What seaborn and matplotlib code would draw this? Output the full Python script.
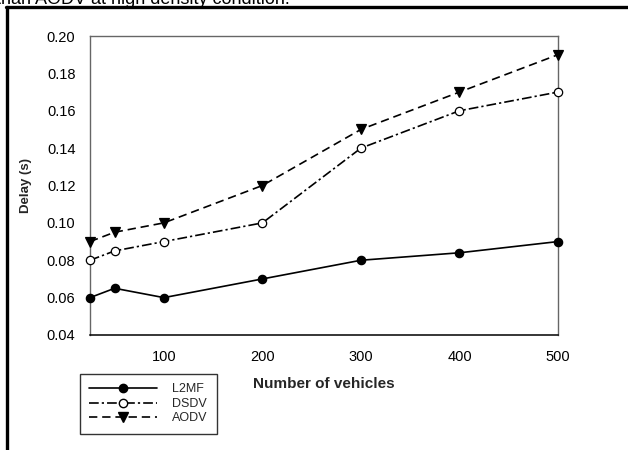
import matplotlib
matplotlib.use("Agg")
import matplotlib.pyplot as plt
import seaborn as sns
import pandas as pd
from matplotlib.lines import Line2D

vehicles = [25, 50, 100, 200, 300, 400, 500]
l2mf = [0.060, 0.065, 0.060, 0.070, 0.080, 0.084, 0.090]
dsdv = [0.080, 0.085, 0.090, 0.100, 0.140, 0.160, 0.170]
aodv = [0.090, 0.095, 0.100, 0.120, 0.150, 0.170, 0.190]
series_names = ["L2MF", "DSDV", "AODV"]
x_ticks = [100, 200, 300, 400, 500]
y_ticks = [0.04, 0.06, 0.08, 0.10, 0.12, 0.14, 0.16, 0.18, 0.20]

sns.set_theme(style="white")
plt.rcParams["font.family"] = ["Liberation Sans", "DejaVu Sans"]
plt.rcParams["lines.scale_dashes"] = False

W, H = 628, 450
fig = plt.figure(figsize=(W / 100, H / 100), dpi=100)
ax = fig.add_axes([90 / W, 1 - 335 / H, (558 - 90) / W, (335 - 36) / H])

styles = {
    "L2MF": dict(marker="o", markerfacecolor="black", linestyle="-", markersize=6),
    "DSDV": dict(marker="o", markerfacecolor="white", linestyle=(0, (7, 2.2, 1.6, 2.2)), markersize=6),
    "AODV": dict(marker="v", markerfacecolor="black", linestyle=(0, (6, 3.5)), markersize=6.5),
}
values = {"L2MF": l2mf, "DSDV": dsdv, "AODV": aodv}

for name in series_names:
    df = pd.DataFrame({"Number of vehicles": vehicles, "Delay (s)": values[name]})
    st = styles[name]
    sns.lineplot(data=df, x="Number of vehicles", y="Delay (s)", ax=ax,
                 color="black", linewidth=1.2, marker=st["marker"],
                 markerfacecolor=st["markerfacecolor"], markeredgecolor="black",
                 markeredgewidth=0.9, markersize=st["markersize"],
                 linestyle=st["linestyle"], label=name, clip_on=False, zorder=5)

ax.set_xlim(25, 500)
ax.set_ylim(0.04, 0.20)
ax.set_xticks(x_ticks)
ax.set_yticks(y_ticks)
ax.set_yticklabels([f"{v:.2f}" for v in y_ticks])
ax.tick_params(axis="both", direction="out", length=3.5, width=0.9, labelsize=10.5,
               colors="black")
ax.tick_params(axis="x", pad=7)
ax.tick_params(axis="y", pad=7)
ax.tick_params(axis="y", color="#555555")
for side in ["top", "right", "left"]:
    ax.spines[side].set_color("#666666")
    ax.spines[side].set_linewidth(1.0)
ax.spines["bottom"].set_color("black")
ax.spines["bottom"].set_linewidth(1.1)

ax.set_xlabel("Number of vehicles", fontsize=11, fontweight="bold", labelpad=10)
ax.set_ylabel("Delay (s)", fontsize=9.5, fontweight="bold", labelpad=11)

ax.get_legend().remove()
handles = [Line2D([0], [0], color="black", linewidth=1.2, linestyle=styles[n]["linestyle"],
                  marker=styles[n]["marker"], markerfacecolor=styles[n]["markerfacecolor"],
                  markeredgecolor="black", markersize=styles[n]["markersize"]) for n in series_names]
leg = fig.legend(handles, series_names, loc="upper left",
                 bbox_to_anchor=(80 / W, 1 - 374 / H), fontsize=9, frameon=True,
                 fancybox=False, edgecolor="black", handlelength=5.4,
                 handletextpad=1.2, labelspacing=0.2, borderpad=0.75, numpoints=1,
                 borderaxespad=0)
leg.get_frame().set_linewidth(1.0)

# page border and clipped caption text above
fig.add_artist(Line2D([7 / W, 7 / W], [0, 1 - 7 / H], color="black", linewidth=2.4,
                      transform=fig.transFigure))
fig.add_artist(Line2D([6 / W, 1], [1 - 7 / H, 1 - 7 / H], color="black", linewidth=2.4,
                      transform=fig.transFigure))
fig.text(-4 / W, 1 - 4 / H, "than AODV at high density condition.", fontsize=13,
         va="baseline", ha="left", color="black")

fig.savefig("out.png", dpi=100, facecolor="white")
